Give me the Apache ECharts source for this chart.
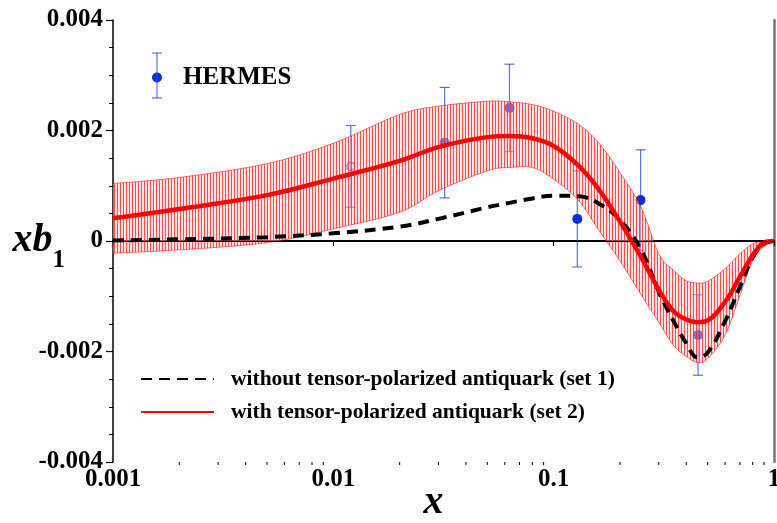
<!DOCTYPE html>
<html>
<head>
<meta charset="utf-8">
<script src="https://cdn.jsdelivr.net/npm/echarts@6/dist/echarts.min.js"></script>
<style>html,body{margin:0;padding:0;background:#fff;overflow:hidden;}#c{width:777px;height:523px;}</style>
</head>
<body>
<div id="c"></div>
<script>
// ---- data ----
const xs = [0.001,0.002,0.005,0.01,0.02,0.03,0.05,0.063,0.08,0.1,0.13,0.16,0.2,0.25,0.3,0.35,0.4,0.45,0.5,0.6,0.7,0.8,0.9,1.0];
const set1 = [0.00001,0.00003,0.00007,0.00014,0.00026,0.00040,0.00061,0.00069,0.00077,0.00082,0.00081,0.00068,0.00038,-0.00017,-0.00092,-0.00145,-0.00185,-0.00211,-0.00202,-0.00145,-0.00083,-0.00030,-0.00005,0];
const set2 = [0.00041,0.00058,0.00083,0.00113,0.00145,0.00170,0.00188,0.00190,0.00186,0.00172,0.00136,0.00094,0.00035,-0.00030,-0.00088,-0.00127,-0.00142,-0.00147,-0.00144,-0.00110,-0.00065,-0.00026,-0.00003,0];
const bandUp = [0.00104,0.00115,0.00140,0.00177,0.00229,0.00244,0.00253,0.00252,0.00247,0.00235,0.00211,0.00178,0.00124,0.00060,-0.00023,-0.00053,-0.00072,-0.00076,-0.00073,-0.00050,-0.00023,-0.00005,0,0];
const bandLo = [-0.00022,-0.00016,-0.00003,0.00022,0.00052,0.00091,0.00127,0.00133,0.00133,0.00112,0.00073,0.00020,-0.00036,-0.00098,-0.00147,-0.00189,-0.00209,-0.00220,-0.00213,-0.00170,-0.00099,-0.00035,-0.00010,0];
const hermesX = [0.012,0.032,0.063,0.128,0.248,0.452];
const hermesY = [0.00135,0.00178,0.00241,0.00040,0.00074,-0.00170];
const hermesErr = [0.00074,0.00100,0.00079,0.00087,0.00091,0.00073];
const xTickLabels = {0.001:'0.001',0.01:'0.01',0.1:'0.1',1:'1'};
const xMinorTicks = [0.002,0.003,0.004,0.005,0.006,0.007,0.008,0.009,0.02,0.03,0.04,0.05,0.06,0.07,0.08,0.09,0.2,0.3,0.4,0.5,0.6,0.7,0.8,0.9];
const nameSet1 = 'without tensor-polarized antiquark (set 1)';
const nameSet2 = 'with tensor-polarized antiquark (set 2)';

// ---- build ----
const FONT = 'Liberation Serif, Times New Roman, serif';
const BLUE = '#0b2fd3';
const BAR = 'rgba(45,80,225,0.8)';

const pc = document.createElement('canvas');
pc.width = 3; pc.height = 4;
const pctx = pc.getContext('2d');
pctx.fillStyle = 'rgba(255,195,195,0.45)';
pctx.fillRect(0,0,3,4);
pctx.fillStyle = 'rgba(255,40,40,0.8)';
pctx.fillRect(0,0,1,4);

const pair = (a) => xs.map((x,i)=>[x,a[i]]);
const hermes = hermesX.map((x,i)=>[x,hermesY[i],hermesErr[i]]);

function splinePath(pts, startCmd){
  let d = startCmd + pts[0][0] + ' ' + pts[0][1];
  for (let i=0;i<pts.length-1;i++){
    const p0 = pts[i-1]||pts[i], p1 = pts[i], p2 = pts[i+1], p3 = pts[i+2]||pts[i+1];
    const c1 = [p1[0]+(p2[0]-p0[0])/6, p1[1]+(p2[1]-p0[1])/6];
    const c2 = [p2[0]-(p3[0]-p1[0])/6, p2[1]-(p3[1]-p1[1])/6];
    d += ' C' + c1[0]+' '+c1[1]+' '+c2[0]+' '+c2[1]+' '+p2[0]+' '+p2[1];
  }
  return d;
}

const chart = echarts.init(document.getElementById('c'), null, {renderer:'canvas'});
const option = {
  animation: false,
  grid: {left:113, right:3, top:20, bottom:61, containLabel:false, outerBoundsMode:'none'},
  xAxis: [{
    type:'log', logBase:10, min:0.001, max:1, splitNumber:3,
    axisLine:{show:true, lineStyle:{color:'#000', width:1.5}},
    axisTick:{show:true, inside:false, length:5, lineStyle:{color:'#000', width:1.2}},
    splitLine:{show:false},
    axisLabel:{margin:5, color:'#000', fontFamily:FONT, fontWeight:'bold', fontSize:25,
      formatter:(v)=>{ for (const k in xTickLabels){ if (Math.abs(Math.log10(v)-Math.log10(+k))<1e-6) return xTickLabels[k]; } return ''; }},
    name:'x', nameLocation:'middle', nameGap:21, nameMoveOverlap:false,
    nameTextStyle:{fontFamily:FONT, fontStyle:'italic', fontWeight:'bold', fontSize:40, color:'#000', padding:[0,20,0,0]}
  },{
    type:'log', logBase:10, min:0.001, max:1, position:'top',
    axisLine:{show:true, lineStyle:{color:'#000', width:2}},
    axisTick:{show:false}, axisLabel:{show:false}, splitLine:{show:false}
  }],
  yAxis: [{
    type:'value', min:-0.004, max:0.004, interval:0.002,
    axisLine:{show:true, lineStyle:{color:'#000', width:1.5}},
    axisTick:{show:true, inside:false, length:7, lineStyle:{color:'#000', width:1.2}},
    minorTick:{show:true, splitNumber:4, length:4, lineStyle:{color:'#000', width:1}},
    splitLine:{show:false},
    axisLabel:{margin:10, color:'#000', fontFamily:FONT, fontWeight:'bold', fontSize:25,
      formatter:(v)=> Math.abs(v)<1e-12 ? '0' : v.toFixed(3)},
    name:'{a|xb}{s|1}', nameLocation:'middle', nameGap:48, nameRotate:0, nameMoveOverlap:false,
    nameTextStyle:{align:'right', rich:{
      a:{fontFamily:FONT, fontStyle:'italic', fontWeight:'bold', fontSize:40, color:'#000', verticalAlign:'bottom'},
      s:{fontFamily:FONT, fontWeight:'bold', fontSize:25, color:'#000', verticalAlign:'bottom', padding:[0,0,-12,0]}
    }}
  },{
    type:'value', min:-0.004, max:0.004, position:'right',
    axisLine:{show:true, lineStyle:{color:'#777', width:2.5}},
    axisTick:{show:false}, axisLabel:{show:false}, splitLine:{show:false}
  }],
  legend: [{
    data:[{name:'HERMES', icon:'circle'}], left:152, top:65, padding:0,
    itemWidth:10, itemHeight:10, selectedMode:false,
    textStyle:{fontFamily:FONT, fontWeight:'bold', fontSize:25, color:'#000', padding:[0,0,0,16]}
  },{
    data:[nameSet1], left:140, top:368, padding:0, itemWidth:73, itemHeight:14, selectedMode:false,
    itemStyle:{opacity:0},
    textStyle:{fontFamily:FONT, fontWeight:'bold', fontSize:21.5, color:'#000', padding:[0,0,0,12]}
  },{
    data:[nameSet2], left:140, top:401, padding:0, itemWidth:73, itemHeight:14, selectedMode:false,
    itemStyle:{opacity:0},
    textStyle:{fontFamily:FONT, fontWeight:'bold', fontSize:21.5, color:'#000', padding:[0,0,0,12]}
  }],
  graphic: [
    {type:'line', shape:{x1:157,y1:53,x2:157,y2:98}, style:{stroke:BAR, lineWidth:1.2}, z:100},
    {type:'line', shape:{x1:152,y1:53,x2:162,y2:53}, style:{stroke:BAR, lineWidth:1.2}, z:100},
    {type:'line', shape:{x1:152,y1:98,x2:162,y2:98}, style:{stroke:BAR, lineWidth:1.2}, z:100}
  ],
  series: [
    {
      type:'custom', name:'HERMES errors', clip:false, z:1,
      data: hermes,
      encode:{x:0, y:1},
      renderItem:(params, api)=>{
        const x = api.value(0), y = api.value(1), e = api.value(2);
        const t = api.coord([x, y+e]), b = api.coord([x, y-e]);
        const st = {stroke:BAR, lineWidth:1.2};
        return {type:'group', children:[
          {type:'line', shape:{x1:t[0],y1:t[1],x2:b[0],y2:b[1]}, style:st},
          {type:'line', shape:{x1:t[0]-5,y1:t[1],x2:t[0]+5,y2:t[1]}, style:st},
          {type:'line', shape:{x1:b[0]-5,y1:b[1],x2:b[0]+5,y2:b[1]}, style:st}
        ]};
      }
    },
    {
      type:'scatter', name:'HERMES', z:1, symbol:'circle', symbolSize:10,
      itemStyle:{color:BLUE, opacity:1},
      data: hermes.map((d,i)=> i===0 ? {value:[d[0],d[1]], symbolSize:8, itemStyle:{color:'rgba(0,0,0,0)', borderColor:'#2a3fd0', borderWidth:1.3}} : [d[0],d[1]])
    },
    {
      type:'custom', name:'band', clip:true, z:2, silent:true,
      data:[[xs[0], bandUp[0]]],
      encode:{x:0, y:1},
      renderItem:(params, api)=>{
        const up = xs.map((x,i)=>api.coord([x, bandUp[i]]));
        const lo = xs.map((x,i)=>api.coord([x, bandLo[i]])).reverse();
        const d = splinePath(up,'M') + ' L' + lo[0][0] + ' ' + lo[0][1] + splinePath(lo,' L').replace(/^ L[^C]*/, '') + ' Z';
        return {type:'group', children:[
          {type:'path', shape:{pathData:d}, style:{fill:{image:pc, repeat:'repeat'}, stroke:null}},
          {type:'path', shape:{pathData:splinePath(up,'M')}, style:{fill:null, stroke:'rgba(255,0,0,0.55)', lineWidth:1}},
          {type:'path', shape:{pathData:splinePath(lo,'M')}, style:{fill:null, stroke:'rgba(255,0,0,0.55)', lineWidth:1}}
        ]};
      }
    },
    {
      type:'line', name:nameSet1, smooth:0.4, symbol:'none', z:3,
      lineStyle:{color:'#000', width:4, type:[11,7]},
      itemStyle:{color:'#000'},
      data: pair(set1),
      markLine:{silent:true, symbol:'none', label:{show:false}, animation:false,
        lineStyle:{color:'#000', width:1, type:'solid'}, data:[{yAxis:0}]}
    },
    {
      type:'line', name:nameSet2, smooth:0.4, symbol:'none', z:4,
      lineStyle:{color:'#ff0000', width:4.5},
      itemStyle:{color:'#ff0000'},
      data: pair(set2)
    },
    {
      type:'custom', name:'minorTicks', clip:false, z:5, silent:true,
      data: xMinorTicks.map(v=>[v,-0.004]),
      encode:{x:0, y:1},
      renderItem:(params, api)=>{
        const p = api.coord([api.value(0), api.value(1)]);
        return {type:'line', shape:{x1:p[0],y1:p[1],x2:p[0],y2:p[1]+3}, style:{stroke:'#000', lineWidth:1}};
      }
    }
  ]
};
chart.setOption(option);
</script>
</body>
</html>
